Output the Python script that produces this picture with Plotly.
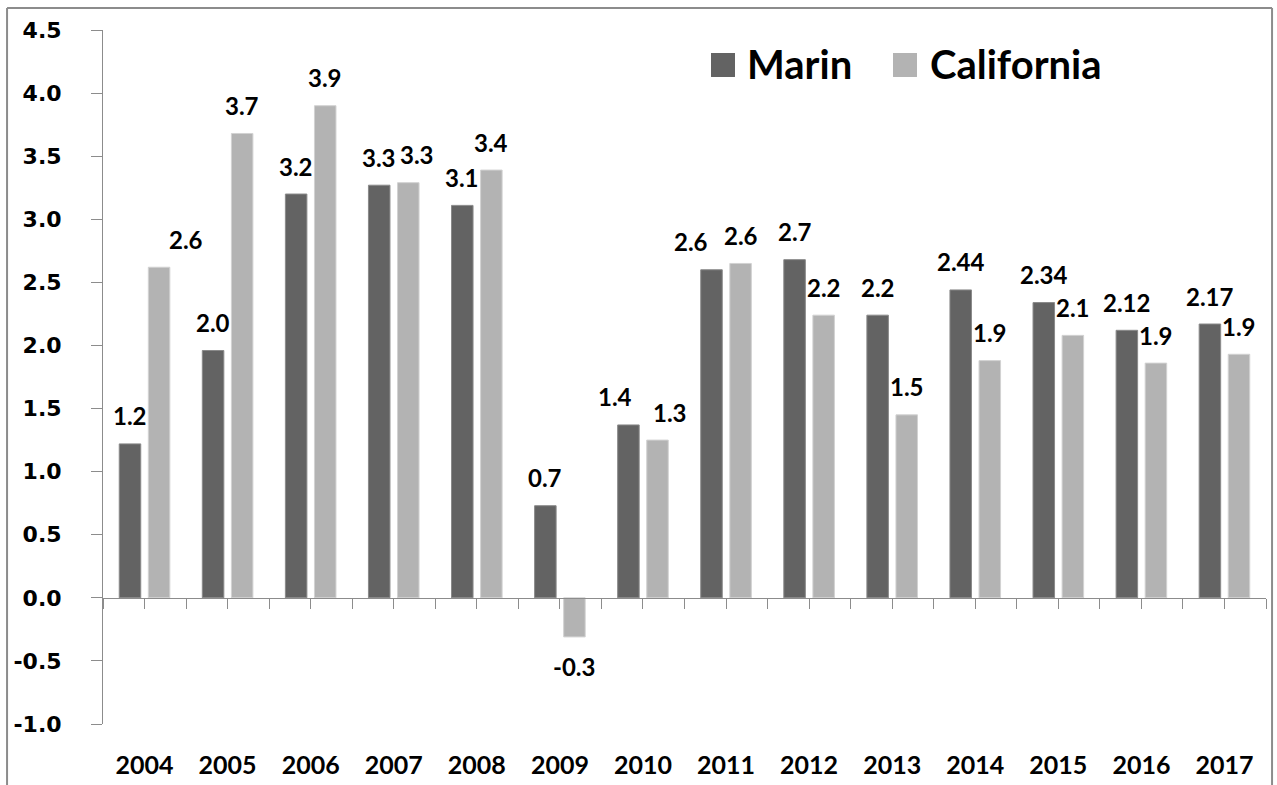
import plotly.graph_objects as go

years = ["2004", "2005", "2006", "2007", "2008", "2009", "2010",
         "2011", "2012", "2013", "2014", "2015", "2016", "2017"]
marin = [1.22, 1.96, 3.20, 3.27, 3.11, 0.73, 1.37, 2.60, 2.68, 2.24, 2.44, 2.34, 2.12, 2.17]
california = [2.62, 3.68, 3.90, 3.29, 3.39, -0.31, 1.25, 2.65, 2.24, 1.45, 1.88, 2.08, 1.86, 1.93]
marin_labels = ["1.2", "2.0", "3.2", "3.3", "3.1", "0.7", "1.4", "2.6", "2.7", "2.2",
                "2.44", "2.34", "2.12", "2.17"]
california_labels = ["2.6", "3.7", "3.9", "3.3", "3.4", "-0.3", "1.3", "2.6", "2.2", "1.5",
                     "1.9", "2.1", "1.9", "1.9"]
series_names = ["Marin", "California"]
y_ticks = [-1.0, -0.5, 0.0, 0.5, 1.0, 1.5, 2.0, 2.5, 3.0, 3.5, 4.0, 4.5]
y_tick_labels = ["-1.0", "-0.5", "0.0", "0.5", "1.0", "1.5", "2.0", "2.5",
                 "3.0", "3.5", "4.0", "4.5"]

MARIN_C = "#636363"
CAL_C = "#b3b3b3"
AXIS_C = "#8c8c8c"
LBL_FONT = dict(family="Lato", size=24, color="black", weight="bold")

# manual label nudges (pixels) as in the original chart
marin_dx = [0, 0, 0, 0, 0, 0, -13, -21, 0, 0, 0, 0, 0, 0]
cal_dx = [27, 0, 0, 9, 0, 0, 13, 0, 0, 0, 0, 0, 0, 0]

fig = go.Figure()
fig.add_trace(go.Bar(x=years, y=marin, name=series_names[0], marker_color=MARIN_C,
                     marker_line=dict(color="#8a8a8a", width=1), showlegend=False))
fig.add_trace(go.Bar(x=years, y=california, name=series_names[1], marker_color=CAL_C,
                     marker_line=dict(color="#d2d2d2", width=1), showlegend=False))
# helper trace for the zero-line axis with tick marks
fig.add_trace(go.Scatter(x=[None], y=[None], xaxis="x2", yaxis="y", mode="markers",
                         showlegend=False, hoverinfo="skip"))

annotations = []
for i, yr in enumerate(years):
    for vals, lbls, off, dxs in ((marin, marin_labels, -14.5, marin_dx),
                                 (california, california_labels, 14.5, cal_dx)):
        v = vals[i]
        annotations.append(dict(
            x=i, y=v, xref="x", yref="y", text=lbls[i], showarrow=False,
            xshift=off + dxs[i], yshift=28 if v >= 0 else -30,
            font=LBL_FONT, xanchor="center", yanchor="middle"))

# legend (manual, large swatches)
LEG_FONT = dict(family="Lato", size=40, color="black", weight="bold")
annotations.append(dict(x=0.5520, y=0.9510, xref="paper", yref="paper", text=series_names[0],
                        showarrow=False, xanchor="left", yanchor="middle", font=LEG_FONT))
annotations.append(dict(x=0.7094, y=0.9510, xref="paper", yref="paper", text=series_names[1],
                        showarrow=False, xanchor="left", yanchor="middle", font=LEG_FONT))

shapes = [
    dict(type="rect", xref="paper", yref="paper", x0=0.5228, x1=0.5434, y0=0.9323, y1=0.9669,
         fillcolor=MARIN_C, line=dict(width=0)),
    dict(type="rect", xref="paper", yref="paper", x0=0.6793, x1=0.6999, y0=0.9323, y1=0.9669,
         fillcolor=CAL_C, line=dict(width=0)),
    # outer chart frame (partially visible)
    dict(type="line", xref="paper", yref="paper", x0=-0.0825, x1=1.0052, y0=1.0317, y1=1.0317,
         line=dict(color=AXIS_C, width=2)),
    dict(type="line", xref="paper", yref="paper", x0=-0.0825, x1=-0.0825, y0=1.0317, y1=-0.2,
         line=dict(color=AXIS_C, width=2)),
    dict(type="line", xref="paper", yref="paper", x0=1.0052, x1=1.0052, y0=1.0317, y1=-0.2,
         line=dict(color=AXIS_C, width=2)),
]

half_ticks = [k * 0.5 - 0.5 for k in range(29)]

fig.update_layout(
    width=1277, height=785,
    margin=dict(l=103, r=11, t=30, b=61),
    paper_bgcolor="white", plot_bgcolor="white",
    barmode="group", bargap=0.30, bargroupgap=0.26,
    xaxis=dict(type="category", categoryorder="array", categoryarray=years,
               range=[-0.5, 13.5], showline=False, ticks="", showgrid=False, zeroline=False,
               tickfont=dict(family="Lato", size=25, color="black", weight="bold"),
               ticklabelstandoff=24, automargin=False),
    xaxis2=dict(overlaying="x", anchor="free", position=1 / 5.5, range=[-0.5, 13.5],
                tickmode="array", tickvals=half_ticks, ticks="outside", ticklen=10,
                tickcolor=AXIS_C, tickwidth=1, showline=True, linecolor=AXIS_C, linewidth=1,
                showticklabels=False, showgrid=False, zeroline=False, automargin=False),
    yaxis=dict(range=[-1.0, 4.5], tickmode="array", tickvals=y_ticks, ticktext=y_tick_labels,
               ticks="outside", ticklen=11, tickcolor=AXIS_C, showline=True, linecolor=AXIS_C,
               linewidth=1, showgrid=False, zeroline=False, ticklabelstandoff=25,
               automargin=False,
               tickfont=dict(family="DejaVu Sans", size=22, color="black", weight="bold")),
    annotations=annotations,
    shapes=shapes,
)

fig.write_html("out.html", config={"displayModeBar": False},
               post_script="document.body.style.margin='0px';")
